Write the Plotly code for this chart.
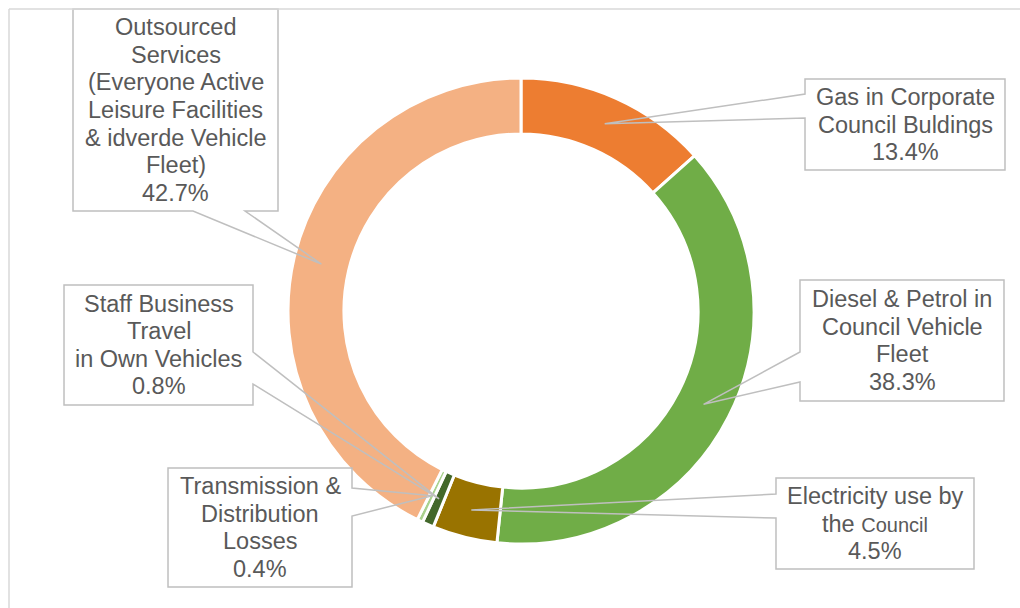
import math
import plotly.graph_objects as go

# ---- data ----
categories = [
    "Gas in Corporate Council Buldings",
    "Diesel & Petrol in Council Vehicle Fleet",
    "Electricity use by the Council",
    "Staff Business Travel in Own Vehicles",
    "Transmission & Distribution Losses",
    "Outsourced Services (Everyone Active Leisure Facilities & idverde Vehicle Fleet)",
]
values = [13.4, 38.3, 4.5, 0.8, 0.4, 42.7]
label_lines = [
    ["Gas in Corporate", "Council Buldings"],
    ["Diesel & Petrol in", "Council Vehicle", "Fleet"],
    ["Electricity use by", "the <span style='font-size:20px'>Council</span>"],
    ["Staff Business", "Travel", "in Own Vehicles"],
    ["Transmission &", "Distribution", "Losses"],
    ["Outsourced", "Services", "(Everyone Active", "Leisure Facilities", "& idverde Vehicle", "Fleet)"],
]
colors = ["#ED7D31", "#70AD47", "#997300", "#43682B", "#A9D18E", "#F4B183"]

# ---- layout constants (pixels) ----
W, H = 1020, 608
CX, CY, R = 521, 311, 233
HOLE = 0.76
LINE_H = 27.5
FONT = "Liberation Sans, Arial, sans-serif"
TXT = "#595959"
EDGE = "#BFBFBF"

# box: (x0, y0, x1, y1, side, wedge_a, wedge_b)
boxes = [
    (805, 79, 1005, 170, "left", 94, 118),
    (800, 280, 1004, 401, "left", 352, 382),
    (776, 478, 974, 569, "left", 494, 518),
    (64, 285, 253, 405, "right", 352, 384),
    (168, 468, 352, 587, "right", 488, 516),
    (73, 9, 278, 211, "bottom", 193, 245),
]

def px(x):
    return x / W

def py(y):
    return 1 - y / H

fig = go.Figure()
fig.add_trace(go.Pie(
    values=values,
    labels=categories,
    marker=dict(colors=colors, line=dict(color="white", width=3)),
    hole=HOLE,
    sort=False,
    direction="clockwise",
    rotation=0,
    textinfo="none",
    hoverinfo="label+percent",
    showlegend=False,
    domain=dict(x=[px(CX - R), px(CX + R)], y=[py(CY + R), py(CY - R)]),
))

total = sum(values)
rm = R * (1 + HOLE) / 2
cum = 0.0
shapes = []
annotations = []
for i, v in enumerate(values):
    theta = 2 * math.pi * (cum + v / 2) / total
    cum += v
    ax = CX + rm * math.sin(theta)
    ay = CY - rm * math.cos(theta)
    x0, y0, x1, y1, side, wa, wb = boxes[i]
    if side == "left":
        pts = [(x0, y0), (x1, y0), (x1, y1), (x0, y1), (x0, wb), (ax, ay), (x0, wa)]
    elif side == "right":
        pts = [(x0, y0), (x1, y0), (x1, wa), (ax, ay), (x1, wb), (x1, y1), (x0, y1)]
    else:
        pts = [(x0, y0), (x1, y0), (x1, y1), (wb, y1), (ax, ay), (wa, y1), (x0, y1)]
    path = "M " + " L ".join(f"{px(a):.5f},{py(b):.5f}" for a, b in pts) + " Z"
    shapes.append(dict(type="path", xref="paper", yref="paper", path=path,
                       line=dict(color=EDGE, width=1.5), fillcolor="rgba(0,0,0,0)", layer="above"))
    lines = label_lines[i] + [f"{v:.1f}%"]
    n = len(lines)
    cyb = (y0 + y1) / 2
    for k, t in enumerate(lines):
        yy = cyb + (k - (n - 1) / 2) * LINE_H
        annotations.append(dict(x=px((x0 + x1) / 2), y=py(yy), xref="paper", yref="paper",
                                text=t, showarrow=False, xanchor="center", yanchor="middle",
                                font=dict(family=FONT, size=23.5, color=TXT)))

# chart frame (top and left edges visible)
shapes.append(dict(type="line", xref="paper", yref="paper", x0=px(9), y0=py(9), x1=1, y1=py(9),
                   line=dict(color="#D9D9D9", width=1.5)))
shapes.append(dict(type="line", xref="paper", yref="paper", x0=px(9), y0=py(9), x1=px(9), y1=0,
                   line=dict(color="#D9D9D9", width=1.5)))

fig.update_layout(
    width=W, height=H,
    margin=dict(l=0, r=0, t=0, b=0),
    paper_bgcolor="white", plot_bgcolor="white",
    shapes=shapes, annotations=annotations,
)
fig.write_html("out.html")
